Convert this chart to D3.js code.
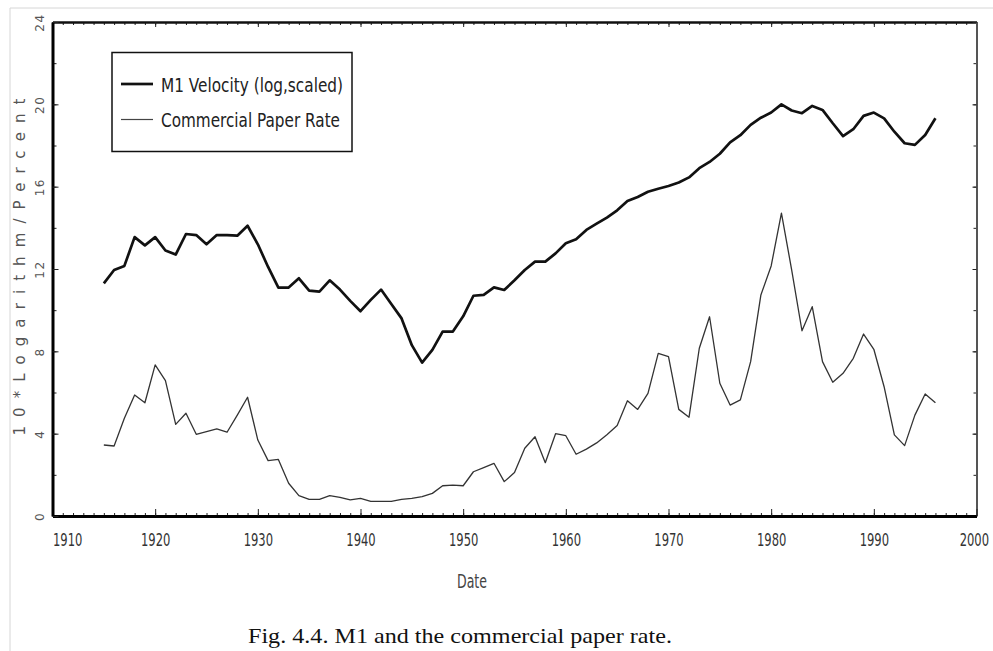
<!DOCTYPE html>
<meta charset="utf-8">
<title>M1 and the commercial paper rate</title>

<style>
	body {
		margin: 0;
		background: #fff;
	}

	svg {
		display: block;
	}

	.plotter text,
	text.plotter {
		font-family: 'DejaVu Sans', sans-serif;
	}

	.caption {
		font-family: 'Liberation Serif', 'Times New Roman', Times, serif;
	}
</style>

<body>
	<div id="chart"></div>

	<script src="https://d3js.org/d3.v7.min.js"></script>
	<script>
		// ----- data (annual, 1915-1996) -----
		var years = d3.range(1915, 1997);

		// 10 * log of M1 velocity, scaled
		var m1Velocity = [
			11.3, 11.95, 12.15, 13.55, 13.15, 13.55, 12.9, 12.7, 13.7, 13.65,
			13.2, 13.65, 13.65, 13.62, 14.1, 13.2, 12.1, 11.1, 11.1, 11.55,
			10.95, 10.9, 11.45, 11.0, 10.45, 9.95, 10.5, 11.0, 10.3, 9.6,
			8.3, 7.45, 8.07, 8.96, 8.96, 9.7, 10.7, 10.74, 11.11, 10.98,
			11.45, 11.95, 12.36, 12.36, 12.76, 13.25, 13.44, 13.9, 14.2, 14.5,
			14.85, 15.3, 15.5, 15.75, 15.9, 16.03, 16.2, 16.45, 16.9, 17.2,
			17.6, 18.15, 18.5, 19.0, 19.35, 19.6, 20.0, 19.7, 19.57, 19.92,
			19.73, 19.08, 18.46, 18.79, 19.44, 19.6, 19.32, 18.67, 18.11, 18.03,
			18.51, 19.32
		];

		// commercial paper rate, percent
		var paperRate = [
			3.45, 3.4, 4.75, 5.88, 5.5, 7.34, 6.58, 4.45, 4.99, 3.97,
			4.1, 4.23, 4.07, 4.9, 5.77, 3.69, 2.69, 2.75, 1.59, 0.99,
			0.81, 0.81, 0.99, 0.91, 0.78, 0.86, 0.71, 0.71, 0.71, 0.81,
			0.86, 0.94, 1.1, 1.47, 1.5, 1.47, 2.15, 2.35, 2.56, 1.67,
			2.11, 3.29, 3.85, 2.59, 4.0, 3.9, 3.0, 3.25, 3.55, 3.95,
			4.4, 5.6, 5.18, 5.96, 7.9, 7.74, 5.18, 4.8, 8.15, 9.68,
			6.45, 5.39, 5.64, 7.5, 10.74, 12.15, 14.71, 11.95, 9.0, 10.17,
			7.5, 6.5, 6.93, 7.66, 8.84, 8.1, 6.28, 3.94, 3.42, 4.9,
			5.93, 5.5
		];

		var decadeTicks = [1910, 1920, 1930, 1940, 1950, 1960, 1970, 1980, 1990, 2000];
		var valueTicks = [0, 4, 8, 12, 16, 20, 24];
		var seriesNames = ["M1 Velocity (log,scaled)", "Commercial Paper Rate"];

		// ----- setup -----
		var width = 993,
			height = 651;

		var x = d3.scaleLinear().domain([1910, 2000]).range([52.5, 976.5]);
		var y = d3.scaleLinear().domain([0, 24]).range([516, 22]);

		var svg = d3.select("#chart").append("svg")
			.attr("width", width)
			.attr("height", height);

		// edge of the scanned page
		svg.append("path")
			.attr("d", "M10," + height + "V8H" + width)
			.attr("fill", "none")
			.attr("stroke", "#d6d6d6");

		// ----- axes (ticks all point inward) -----
		var allYears = d3.range(1910, 2001);
		var evenValues = d3.range(0, 25, 2);

		function noDomain(g) {
			g.select(".domain").remove();
		}

		// minor year ticks, bottom and top
		svg.append("g").attr("transform", "translate(0,516)")
			.call(d3.axisBottom(x).tickValues(allYears).tickSize(-3).tickFormat(""))
			.call(noDomain);
		svg.append("g").attr("transform", "translate(0,22)")
			.call(d3.axisTop(x).tickValues(allYears).tickSize(-3).tickFormat(""))
			.call(noDomain);

		// minor value ticks, left and right
		svg.append("g").attr("transform", "translate(52.5,0)")
			.call(d3.axisLeft(y).tickValues(evenValues).tickSize(-4).tickFormat(""))
			.call(noDomain);
		svg.append("g").attr("transform", "translate(976.5,0)")
			.call(d3.axisRight(y).tickValues(evenValues).tickSize(-3).tickFormat(""))
			.call(noDomain);

		// top and right frame
		svg.append("g").attr("transform", "translate(0,22)")
			.call(d3.axisTop(x).tickValues(decadeTicks).tickSizeInner(-5).tickSizeOuter(0).tickFormat(""))
			.call(function (g) {
				g.select(".domain").attr("stroke", "#111").attr("stroke-width", 2.5);
			});
		svg.append("g").attr("transform", "translate(976.5,0)")
			.call(d3.axisRight(y).tickValues(valueTicks).tickSizeInner(-4).tickSizeOuter(0).tickFormat(""))
			.call(function (g) {
				g.select(".domain").attr("stroke", "#555").attr("stroke-width", 2);
			});

		// bottom axis with decade labels (narrow plotter digits: squeeze horizontally)
		var squeeze = 0.64;
		var xAxis = svg.append("g")
			.attr("class", "plotter")
			.attr("transform", "translate(0,516)")
			.call(d3.axisBottom(x).tickValues(decadeTicks).tickSizeInner(-7).tickSizeOuter(0)
				.tickPadding(17).tickFormat(d3.format("d")));
		xAxis.select(".domain").attr("stroke", "#000").attr("stroke-width", 3);
		xAxis.selectAll("text")
			.attr("font-size", 18)
			.attr("fill", "#333")
			.attr("transform", "scale(" + squeeze + ",1)")
			// first label starts at the axis corner, last one stops at the page edge
			.attr("text-anchor", function (d, i, nodes) {
				if (i === 0) return "start";
				if (i === nodes.length - 1) return "end";
				return "middle";
			})
			.attr("x", function (d, i, nodes) {
				return i === nodes.length - 1 ? 12 / squeeze : 0;
			});

		// left axis with rotated labels
		var yAxis = svg.append("g")
			.attr("class", "plotter")
			.attr("transform", "translate(52.5,0)")
			.call(d3.axisLeft(y).tickValues(valueTicks).tickSizeInner(-6).tickSizeOuter(0)
				.tickFormat(d3.format("d")));
		yAxis.select(".domain").attr("stroke", "#000").attr("stroke-width", 3);
		yAxis.selectAll("text")
			.attr("x", 0)
			.attr("dy", null)
			.attr("transform", "translate(-9,0) rotate(-90)")
			.attr("text-anchor", "middle")
			.attr("font-size", 12)
			.attr("letter-spacing", 1.5)
			.attr("fill", "#555");

		svg.selectAll(".tick line").attr("stroke", "#222");

		// ----- series -----
		var line = d3.line()
			.x(function (d) { return x(d.year); })
			.y(function (d) { return y(d.value); });

		function pairs(values) {
			return values.map(function (v, i) {
				return { year: years[i], value: v };
			});
		}

		svg.append("path")
			.datum(pairs(paperRate))
			.attr("d", line)
			.attr("fill", "none")
			.attr("stroke", "#333")
			.attr("stroke-width", 1.3)
			.attr("stroke-linejoin", "round");

		svg.append("path")
			.datum(pairs(m1Velocity))
			.attr("d", line)
			.attr("fill", "none")
			.attr("stroke", "#111")
			.attr("stroke-width", 2.7)
			.attr("stroke-linejoin", "round");

		// ----- legend -----
		var legend = svg.append("g").attr("class", "plotter");
		legend.append("rect")
			.attr("x", 112).attr("y", 52.5)
			.attr("width", 240).attr("height", 99)
			.attr("fill", "#fff")
			.attr("stroke", "#111")
			.attr("stroke-width", 1.5);

		var legendRows = legend.selectAll(".row")
			.data(seriesNames)
			.enter().append("g")
			.attr("class", "row")
			.attr("transform", function (d, i) {
				return "translate(0," + (84 + i * 35.5) + ")";
			});
		legendRows.append("line")
			.attr("x1", 121).attr("x2", 153)
			.attr("stroke", function (d, i) { return i === 0 ? "#111" : "#444"; })
			.attr("stroke-width", function (d, i) { return i === 0 ? 2.7 : 1.2; });
		legendRows.append("text")
			.attr("x", 161)
			.attr("y", 7.5)
			.attr("font-size", 19)
			.attr("fill", "#222")
			.attr("textLength", function (d, i) { return i === 0 ? 182 : 179; })
			.attr("lengthAdjust", "spacingAndGlyphs")
			.text(function (d) { return d; });

		// ----- titles -----
		svg.append("text")
			.attr("class", "plotter")
			.attr("transform", "translate(25,267) rotate(-90)")
			.attr("text-anchor", "middle")
			.attr("font-size", 15)
			.attr("fill", "#555")
			.attr("textLength", 337)
			.attr("lengthAdjust", "spacing")
			.text("10*Logarithm/Percent");

		svg.append("text")
			.attr("class", "plotter")
			.attr("x", 472).attr("y", 588)
			.attr("text-anchor", "middle")
			.attr("font-size", 20)
			.attr("fill", "#444")
			.attr("textLength", 30)
			.attr("lengthAdjust", "spacingAndGlyphs")
			.text("Date");

		svg.append("text")
			.attr("class", "caption")
			.attr("x", 460).attr("y", 643)
			.attr("text-anchor", "middle")
			.attr("font-size", 21)
			.attr("fill", "#111")
			.attr("textLength", 424)
			.attr("lengthAdjust", "spacingAndGlyphs")
			.text("Fig. 4.4. M1 and the commercial paper rate.");
	</script>
</body>
